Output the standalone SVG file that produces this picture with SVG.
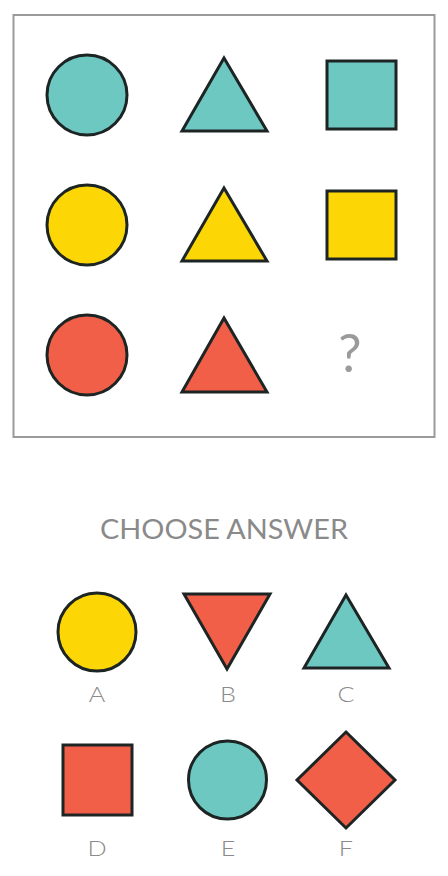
<svg xmlns="http://www.w3.org/2000/svg" width="448" height="876" viewBox="0 0 448 876">
<style>
.s{stroke:#1c2424;stroke-width:3;stroke-linejoin:miter}
.t{fill:#6ec8c2}.y{fill:#fdd705}.r{fill:#f15f48}
.lbl{font-family:"Lato","Noto Sans",sans-serif;font-weight:400;fill:#8a8a8a;text-anchor:middle}
.ans{font-size:21px;font-weight:300}
</style>
<rect width="448" height="876" fill="#ffffff"/>
<g id="frame"><rect x="13.5" y="15" width="421" height="422" fill="none" stroke="#9a9a9a" stroke-width="2"/></g>
<g id="r1c1"><circle class="s t" cx="87" cy="95" r="40"/></g>
<g id="r1c2"><polygon class="s t" points="224,58 267,131 182,131"/></g>
<g id="r1c3"><rect class="s t" x="327" y="61" width="69" height="68"/></g>
<g id="r2c1"><circle class="s y" cx="87" cy="225" r="40"/></g>
<g id="r2c2"><polygon class="s y" points="224,188 267,261 182,261"/></g>
<g id="r2c3"><rect class="s y" x="327" y="191" width="69" height="68"/></g>
<g id="r3c1"><circle class="s r" cx="87" cy="355" r="40"/></g>
<g id="r3c2"><polygon class="s r" points="224,318 267,392 182,392"/></g>
<g id="r3c3"><text class="lbl" x="350" y="372" font-size="52" style="fill:#9a9a9a">?</text></g>
<g id="title"><text class="lbl" x="224" y="539" font-size="26" textLength="248" lengthAdjust="spacingAndGlyphs">CHOOSE ANSWER</text></g>
<g id="A"><circle class="s y" cx="97" cy="632" r="39"/><text class="lbl ans" x="97" y="702" transform="translate(97 702) scale(1.2 1) translate(-97 -702)">A</text></g>
<g id="B"><polygon class="s r" points="184,594 270,594 227,669"/><text class="lbl ans" x="228" y="702" transform="translate(228 702) scale(1.2 1) translate(-228 -702)">B</text></g>
<g id="C"><polygon class="s t" points="346,595 389,668 304,668"/><text class="lbl ans" x="346" y="702" transform="translate(346 702) scale(1.2 1) translate(-346 -702)">C</text></g>
<g id="D"><rect class="s r" x="63" y="745" width="69" height="70"/><text class="lbl ans" x="97" y="856" transform="translate(97 856) scale(1.2 1) translate(-97 -856)">D</text></g>
<g id="E"><circle class="s t" cx="227.5" cy="780" r="39"/><text class="lbl ans" x="228" y="856" transform="translate(228 856) scale(1.2 1) translate(-228 -856)">E</text></g>
<g id="F"><polygon class="s r" points="346,732 395,780 346,828 297,780"/><text class="lbl ans" x="346" y="856" transform="translate(346 856) scale(1.2 1) translate(-346 -856)">F</text></g>
<g id="connectors"></g>
</svg>
